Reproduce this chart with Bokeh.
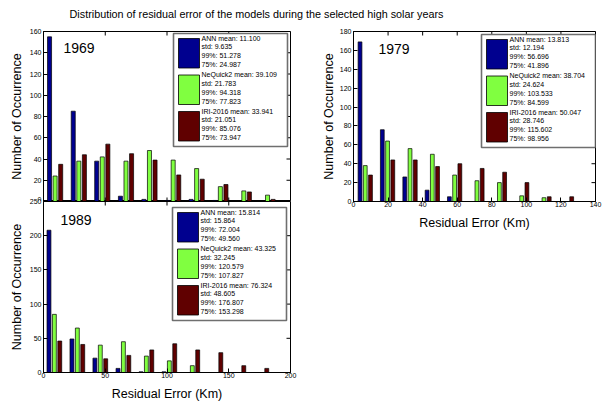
from bokeh.plotting import figure
from bokeh.models import Range1d, FixedTicker, Label, ColumnDataSource
from bokeh.layouts import column, row
from bokeh.transform import dodge
from bokeh.core.properties import value
from bokeh.embed import file_html
from bokeh.resources import INLINE

# ---------------- data ----------------
TITLE = "Distribution of residual error of the models during the selected high solar years"
models = ["ANN", "NeQuick2", "IRI-2016"]
colors = ["#00008F", "#80FF40", "#600000"]
x_title = "Residual Error (Km)"
y_title = "Number of Occurrence"

# 1969
centers_1969 = [4.7, 14.3, 23.8, 33.4, 42.9, 52.5, 62.0, 71.6, 81.1, 90.7]
ann_1969 = [155, 85, 38, 5, 2, 1, 2, 1, 0, 0]
neq_1969 = [24, 38, 42, 38, 48, 39, 31, 14, 10, 6]
iri_1969 = [35, 44, 54, 45, 39, 25, 21, 16, 9, 2]
mean_1969 = [11.100, 39.109, 33.941]
std_1969 = [9.635, 21.783, 21.051]
p99_1969 = [51.278, 94.318, 85.076]
p75_1969 = [24.987, 77.823, 73.947]

# 1979
centers_1979 = [6.8, 19.7, 32.7, 45.6, 58.5, 71.4, 84.4, 97.3, 110.2, 123.2]
ann_1979 = [169, 76, 26, 12, 5, 0, 0, 0, 0, 0]
neq_1979 = [38, 64, 56, 50, 28, 22, 20, 6, 4, 0]
iri_1979 = [28, 44, 44, 37, 40, 35, 31, 20, 5, 5]
mean_1979 = [13.813, 38.704, 50.047]
std_1979 = [12.194, 24.624, 28.746]
p99_1979 = [56.696, 103.533, 115.602]
p75_1979 = [41.896, 84.599, 98.956]

# 1989
centers_1989 = [8.8, 27.4, 46.0, 64.7, 83.3, 101.9, 120.5, 139.2, 157.8, 176.4]
ann_1989 = [208, 49, 21, 6, 1, 1, 0, 0, 0, 0]
neq_1989 = [85, 65, 40, 45, 24, 17, 10, 0, 0, 0]
iri_1989 = [46, 41, 20, 25, 33, 42, 33, 29, 10, 6]
mean_1989 = [15.814, 43.325, 76.324]
std_1989 = [15.864, 32.245, 48.605]
p99_1989 = [72.004, 120.579, 176.807]
p75_1989 = [49.560, 107.827, 153.298]

xticks_1969 = [0, 25, 50, 75, 100]
yticks_1969 = [0, 20, 40, 60, 80, 100, 120, 140, 160]
xticks_1979 = [0, 20, 40, 60, 80, 100, 120, 140]
yticks_1979 = [0, 20, 40, 60, 80, 100, 120, 140, 160, 180]
xticks_1989 = [0, 50, 100, 150, 200]
yticks_1989 = [0, 50, 100, 150, 200, 250]

FONT = "Liberation Sans"
TICK_LEN = 4


def style_axis(ax, ticks, label_standoff, tick_standoff):
    ax.ticker = FixedTicker(ticks=ticks)
    ax.major_tick_in = TICK_LEN
    ax.major_tick_out = 0
    ax.minor_tick_in = 0
    ax.minor_tick_out = 0
    ax.axis_line_color = "black"
    ax.major_tick_line_color = "black"
    ax.major_label_text_font = FONT
    ax.major_label_text_font_size = "7px"
    ax.major_label_text_color = "black"
    ax.major_label_standoff = tick_standoff
    ax.axis_label_text_font = FONT
    ax.axis_label_text_font_size = "12.5px"
    ax.axis_label_text_font_style = "normal"
    ax.axis_label_text_color = "black"
    ax.axis_label_standoff = label_standoff


def make_panel(year, frame, borders, xr, yr, xticks, yticks, centers, ann, neq, iri,
               means, stds, p99s, p75s, legend_tl, year_pos, show_xaxis,
               xlabel_standoff, ylabel_standoff):
    L, T, R, B = frame
    p = figure(frame_width=R - L, frame_height=B - T,
               x_range=Range1d(*xr), y_range=Range1d(*yr),
               toolbar_location=None, output_backend="svg",
               x_axis_location="below" if show_xaxis else None,
               min_border_left=borders[0], min_border_right=borders[1],
               min_border_top=borders[2], min_border_bottom=borders[3])
    p.xgrid.visible = False
    p.ygrid.visible = False
    p.outline_line_color = "black"
    p.outline_line_width = 1
    p.background_fill_color = "white"

    if show_xaxis:
        style_axis(p.xaxis[0], xticks, xlabel_standoff, 0)
        p.xaxis[0].axis_label = x_title
    style_axis(p.yaxis[0], yticks, ylabel_standoff, 2)
    p.yaxis[0].axis_label = y_title

    def dx_(px):
        return xr[0] + (px - L) / (R - L) * (xr[1] - xr[0])

    def dy_(py):
        return yr[0] + (B - py) / (B - T) * (yr[1] - yr[0])

    # inward tick marks on the box sides that carry no labels
    tx_len = TICK_LEN / (R - L) * (xr[1] - xr[0])
    ty_len = TICK_LEN / (B - T) * (yr[1] - yr[0])
    x0s, x1s, y0s, y1s = [], [], [], []
    for t in xticks:
        x0s += [t]; x1s += [t]; y0s += [yr[1]]; y1s += [yr[1] - ty_len]
        if not show_xaxis:
            x0s += [t]; x1s += [t]; y0s += [yr[0]]; y1s += [yr[0] + ty_len]
    for t in yticks:
        x0s += [xr[1]]; x1s += [xr[1] - tx_len]; y0s += [t]; y1s += [t]
    p.segment(x0=x0s, y0=y0s, x1=x1s, y1=y1s, line_color="black", line_width=1)

    # bars
    src = ColumnDataSource(dict(c=centers, ann=ann, neq=neq, iri=iri))
    step = centers[1] - centers[0]
    off = 0.235 * step
    w = 0.17 * step
    for col, dxo, color in zip(["ann", "neq", "iri"], [-off, 0.0, off], colors):
        p.vbar(x=dodge("c", dxo, range=p.x_range), top=col, bottom=0, width=w,
               source=src, fill_color=color, line_color="black", line_width=0.7)

    # legend box
    bx, by = legend_tl
    bw, bh = 114, 113
    p.quad(left=[dx_(bx)], right=[dx_(bx + bw)], top=[dy_(by)], bottom=[dy_(by + bh)],
           fill_color="white", line_color="#6f6f6f", line_width=1.6)
    patch_off = [5, 41.5, 78]
    tx, ty, tt = [], [], []
    for i, m in enumerate(models):
        pt = by + patch_off[i]
        p.quad(left=[dx_(bx + 5)], right=[dx_(bx + 26)], top=[dy_(pt)], bottom=[dy_(pt + 29.5)],
               fill_color=colors[i], line_color="black", line_width=0.8)
        lines = [f"{m} mean: {means[i]:.3f}", f"std: {stds[i]:.3f}",
                 f"99%: {p99s[i]:.3f}", f"75%: {p75s[i]:.3f}"]
        for k, s in enumerate(lines):
            tx.append(dx_(bx + 28))
            ty.append(dy_(pt - 0.5 + 8.9 * k))
            tt.append(s)
    p.text(x=tx, y=ty, text=tt, text_font=value(FONT), text_font_size=value("7px"),
           text_baseline="middle", text_align="left", text_color="black")

    p.add_layout(Label(x=dx_(year_pos[0]), y=dy_(year_pos[1]), text=year,
                       text_font=FONT, text_font_size="14px", text_color="black",
                       text_align="left", text_baseline="middle"))
    return p


# page coordinates of frames (left, top, right, bottom); borders (left, right, top, bottom)
p1969 = make_panel("1969", (43, 31, 290, 201), (43, 10, 9, 0), (0, 100), (0, 160),
                   xticks_1969, yticks_1969, centers_1969, ann_1969, neq_1969, iri_1969,
                   mean_1969, std_1969, p99_1969, p75_1969, (173, 33), (63, 47.5),
                   False, 1, 3)
p1989 = make_panel("1989", (43, 201, 290, 372), (43, 10, 4, 29), (0, 200), (0, 250),
                   xticks_1989, yticks_1989, centers_1989, ann_1989, neq_1989, iri_1989,
                   mean_1989, std_1989, p99_1989, p75_1989, (172, 207), (60, 219),
                   True, 6, 3)
p1989.border_fill_color = None
p1989.margin = (-4, 0, 0, 0)
p1979 = make_panel("1979", (353, 31, 595, 201), (53, 10, 9, 30), (0, 140), (0, 180),
                   xticks_1979, yticks_1979, centers_1979, ann_1979, neq_1979, iri_1979,
                   mean_1979, std_1979, p99_1979, p75_1979, (481, 34), (378, 48),
                   True, 6, 1)

ptitle = figure(frame_width=605, frame_height=22, x_range=Range1d(0, 605), y_range=Range1d(0, 22),
                toolbar_location=None, output_backend="svg", min_border=0,
                x_axis_location=None, y_axis_location=None)
ptitle.xgrid.visible = False
ptitle.ygrid.visible = False
ptitle.outline_line_color = None
ptitle.add_layout(Label(x=256, y=9, text=TITLE, text_font=FONT, text_font_size="10.8px",
                        text_color="black", text_align="center", text_baseline="middle"))

layout = column(ptitle, row(column(p1969, p1989), p1979))

open("out.html", "w").write(file_html(layout, INLINE))
